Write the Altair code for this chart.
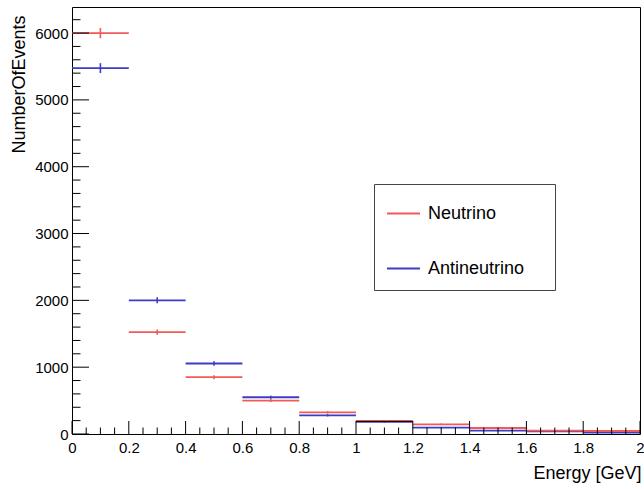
import altair as alt
import pandas as pd

# ---- data ----
bin_lo = [0.0, 0.2, 0.4, 0.6, 0.8, 1.0, 1.2, 1.4, 1.6, 1.8]
bin_hi = [0.2, 0.4, 0.6, 0.8, 1.0, 1.2, 1.4, 1.6, 1.8, 2.0]
neutrino = [6000, 1525, 850, 500, 325, 195, 145, 90, 50, 45]
neutrino_err = [77, 39, 29, 22, 18, 14, 12, 9, 7, 7]
antineutrino = [5475, 2000, 1055, 550, 280, 180, 95, 50, 40, 20]
antineutrino_err = [74, 45, 32, 23, 17, 13, 10, 7, 6, 4]
series_names = ["Neutrino", "Antineutrino"]
series_colors = ["#f25a5a", "#3c3cc8"]

# black outline segment seen at 1.0-1.2
black_lo = [1.0]
black_hi = [1.2]
black_val = [188]

x_major = [0, 0.2, 0.4, 0.6, 0.8, 1, 1.2, 1.4, 1.6, 1.8, 2]
x_minor = [round(i * 0.05, 2) for i in range(41) if i % 4 != 0]
y_major = [0, 1000, 2000, 3000, 4000, 5000, 6000]
y_minor = [v for v in range(200, 6201, 200) if v % 1000 != 0]

rows = []
for name, vals, errs in [("Antineutrino", antineutrino, antineutrino_err),
                         ("Neutrino", neutrino, neutrino_err)]:
    for lo, hi, v, e in zip(bin_lo, bin_hi, vals, errs):
        rows.append({"series": name, "lo": lo, "hi": hi, "center": (lo + hi) / 2,
                     "val": v, "low": v - e, "high": v + e})
df = pd.DataFrame(rows)

xscale = alt.Scale(domain=[0, 2], nice=False, zero=False)
yscale = alt.Scale(domain=[0, 6390], nice=False, zero=True)
cscale = alt.Scale(domain=series_names, range=series_colors)

xaxis = alt.Axis(values=x_major, format="~g", title="Energy [GeV]", grid=False,
                 ticks=False, domain=False, labelFontSize=15, labelPadding=6,
                 labelFlush=False, labelOverlap=False, labelColor="black",
                 titleFontSize=18, titleFontWeight="normal", titleColor="black",
                 titleX=569, titleY=39, titleAlign="right", titleBaseline="middle")
yaxis = alt.Axis(values=y_major, format="d", title="NumberOfEvents", grid=False,
                 ticks=False, domain=False, labelFontSize=15, labelPadding=4,
                 labelColor="black", titleFontSize=18, titleFontWeight="normal",
                 titleColor="black", titleAngle=-90, titleX=-53, titleY=8,
                 titleAlign="right", titleBaseline="middle")

hbars = alt.Chart(df).mark_rule(strokeWidth=1.8).encode(
    x=alt.X("lo:Q", scale=xscale, axis=xaxis),
    x2="hi:Q",
    y=alt.Y("val:Q", scale=yscale, axis=yaxis),
    color=alt.Color("series:N", scale=cscale, legend=alt.Legend(
        orient="none", legendX=302, legendY=177, title=None,
        symbolType="stroke", symbolSize=1090, symbolStrokeWidth=1.8,
        labelFontSize=18, labelOffset=7, rowPadding=28, padding=12,
        labelLimit=400, labelColor="black", strokeColor="#444", fillColor="white",
        labelExpr="datum.label + '\u2003\u200b'")),
)

errbars = alt.Chart(df).mark_rule(strokeWidth=1.6).encode(
    x=alt.X("center:Q", scale=xscale, axis=xaxis),
    y=alt.Y("low:Q", scale=yscale, axis=yaxis),
    y2="high:Q",
    color=alt.Color("series:N", scale=cscale, legend=None),
)

black_seg = alt.Chart(pd.DataFrame({"lo": black_lo, "hi": black_hi, "v": black_val})).mark_rule(
    color="black", strokeWidth=1).encode(
    x=alt.X("lo:Q", scale=xscale, axis=xaxis), x2="hi:Q",
    y=alt.Y("v:Q", scale=yscale, axis=yaxis))

def yticks(vals, length):
    return alt.Chart(pd.DataFrame({"v": vals})).mark_rule(color="black", strokeWidth=1).encode(
        y=alt.Y("v:Q", scale=yscale, axis=yaxis), x=alt.value(0), x2=alt.value(length))

def xticks(vals, length):
    return alt.Chart(pd.DataFrame({"v": vals})).mark_rule(color="black", strokeWidth=1).encode(
        x=alt.X("v:Q", scale=xscale, axis=xaxis), y=alt.value(427), y2=alt.value(427 - length))

chart = alt.layer(
    hbars, errbars,
    yticks(y_major, 17), yticks(y_minor, 8.5),
    xticks(x_major, 13), xticks(x_minor, 6.5),
    black_seg,
).properties(
    width=568, height=427,
    autosize=alt.AutoSizeParams(type="none"),
    padding={"left": 72, "top": 7, "right": 4, "bottom": 55},
    background="white",
).configure(font="Liberation Sans").configure_view(stroke="black", strokeWidth=1)

chart.save("out.html", embed_options={"renderer": "svg", "actions": False})
